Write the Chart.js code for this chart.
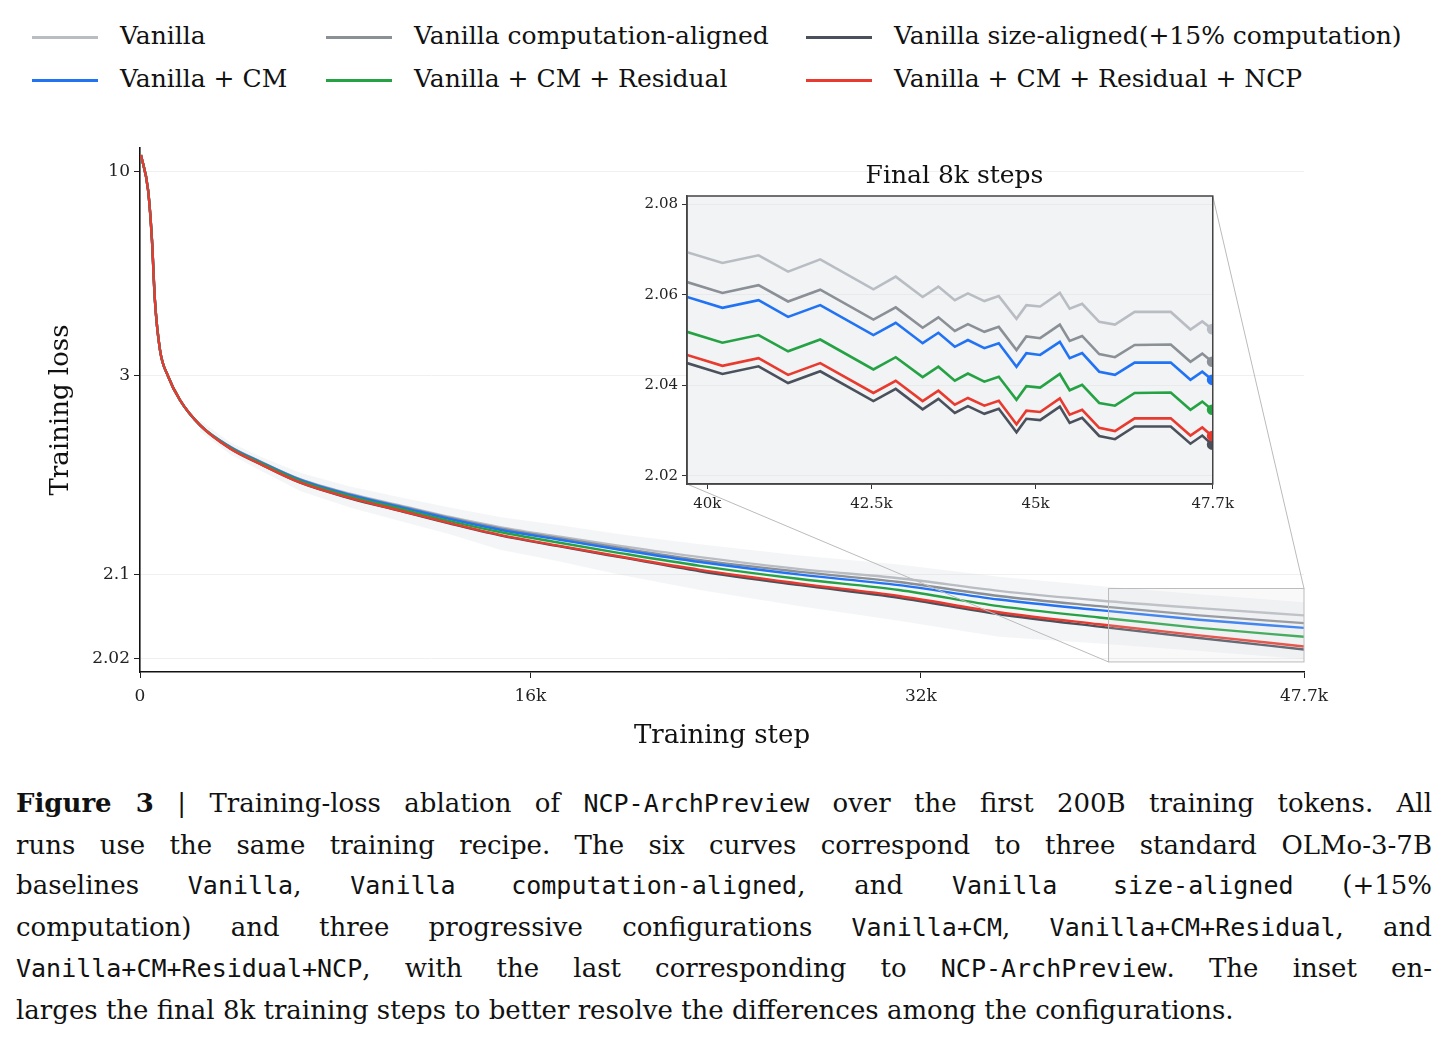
<!DOCTYPE html>
<html>
<head>
<meta charset="utf-8">
<script src="https://cdn.jsdelivr.net/npm/chart.js@4.4.0/dist/chart.umd.min.js"></script>
<style>
  body { margin: 0; background: #fff; width: 1448px; height: 1047px; position: relative; overflow: hidden; font-family: "DejaVu Serif", serif; color: #111; }
  .leg { position: absolute; font-size: 25px; white-space: nowrap; }
  .leg i { position: absolute; top: 16px; width: 66px; height: 3px; }
  .leg span { position: absolute; }
  #mainWrap { position: absolute; left: 0; top: 130px; width: 1350px; height: 640px; }
  #insetWrap { position: absolute; left: 630px; top: 160px; width: 610px; height: 360px; }
  #insetTitle { position: absolute; left: 687px; width: 535px; top: 160px; text-align: center; font-size: 25px; }
  #caption { position: absolute; left: 16px; top: 783px; width: 1416px; font-size: 26px; line-height: 40.6px; }
  #caption div { text-align: justify; text-align-last: justify; white-space: nowrap; }
  #caption div.last { text-align-last: left; }
  #caption code { font-family: "DejaVu Sans Mono", monospace; font-size: 25px; }
</style>
</head>
<body>
<div id="legend"></div>
<div id="mainWrap"><canvas id="mainChart"></canvas></div>
<div id="insetWrap"><canvas id="insetChart"></canvas></div>
<div id="insetTitle">Final 8k steps</div>
<div id="caption">
<div><b>Figure 3</b> | Training-loss ablation of <code>NCP-ArchPreview</code> over the first 200B training tokens. All</div>
<div>runs use the same training recipe. The six curves correspond to three standard OLMo-3-7B</div>
<div>baselines <code>Vanilla</code>, <code>Vanilla computation-aligned</code>, and <code>Vanilla size-aligned</code> (+15%</div>
<div>computation) and three progressive configurations <code>Vanilla+CM</code>, <code>Vanilla+CM+Residual</code>, and</div>
<div><code>Vanilla+CM+Residual+NCP</code>, with the last corresponding to <code>NCP-ArchPreview</code>. The inset en-</div>
<div class="last">larges the final 8k training steps to better resolve the differences among the configurations.</div>
</div>
<script>
// series names and colours
const names = ['Vanilla', 'Vanilla computation-aligned', 'Vanilla size-aligned(+15% computation)',
               'Vanilla + CM', 'Vanilla + CM + Residual', 'Vanilla + CM + Residual + NCP'];
const colors = ['#b9bdc3', '#8b8f96', '#4b515c', '#2173f3', '#25a244', '#e83a2e'];

// main chart: training steps and losses
const mainSteps = [40, 330, 490, 610, 820, 1150, 1640, 2460, 3690, 4920, 6560, 8600, 10650, 12700,
                   14750, 17200, 19670, 22950, 27050, 31100, 35200, 39300, 43400, 47700];
const head = [11.5, 8.67, 6.02, 4.18, 3.30, 2.99, 2.77, 2.59];
const mainVanilla = head.concat([2.468, 2.398, 2.326, 2.276, 2.241, 2.210, 2.186, 2.165, 2.147, 2.127, 2.108, 2.095, 2.079, 2.068, 2.060, 2.053]);
const mainComp    = head.concat([2.467, 2.397, 2.325, 2.274, 2.239, 2.208, 2.183, 2.162, 2.143, 2.122, 2.104, 2.090, 2.073, 2.062, 2.053, 2.046]);
const mainSize    = head.concat([2.458, 2.386, 2.313, 2.262, 2.226, 2.194, 2.168, 2.146, 2.127, 2.105, 2.086, 2.071, 2.054, 2.043, 2.034, 2.026]);
const mainCM      = head.concat([2.466, 2.395, 2.323, 2.272, 2.237, 2.205, 2.180, 2.159, 2.140, 2.119, 2.100, 2.086, 2.069, 2.058, 2.049, 2.042]);
const mainRes     = head.concat([2.462, 2.391, 2.319, 2.268, 2.232, 2.200, 2.175, 2.153, 2.134, 2.113, 2.094, 2.080, 2.062, 2.051, 2.042, 2.035]);
const mainNCP     = head.concat([2.458, 2.387, 2.314, 2.263, 2.227, 2.195, 2.169, 2.147, 2.128, 2.107, 2.088, 2.073, 2.056, 2.045, 2.036, 2.028]);
// raw-loss noise envelope (from 2.46k on)
const bandHigh = [2.62, 2.49, 2.42, 2.35, 2.30, 2.265, 2.235, 2.21, 2.19, 2.17, 2.15, 2.13, 2.115, 2.097, 2.085, 2.075, 2.066];
const bandLow  = [2.55, 2.43, 2.36, 2.285, 2.235, 2.20, 2.17, 2.14, 2.12, 2.10, 2.08, 2.062, 2.048, 2.035, 2.030, 2.025, 2.020];
const mainTicksY = [10, 3, 2.1, 2.02];
const mainTicksX = [0, 16000, 32000, 47700];
const mainTickXLabels = ['0', '16k', '32k', '47.7k'];

// inset: final 8k steps
const insetSteps = [39690, 40230, 40780, 41230, 41720, 42530, 42870, 43280, 43520, 43770, 43970, 44220, 44440,
                    44710, 44860, 45070, 45370, 45520, 45710, 45970, 46210, 46510, 47060, 47360, 47540, 47690];
const insVanilla = [2.0694, 2.0670, 2.0687, 2.0651, 2.0678, 2.0612, 2.0640, 2.0595, 2.0618, 2.0588, 2.0603, 2.0586, 2.0597, 2.0547, 2.0577, 2.0574, 2.0604, 2.0569, 2.0580, 2.0540, 2.0534, 2.0562, 2.0562, 2.0523, 2.0541, 2.0524];
const insComp    = [2.0628, 2.0604, 2.0621, 2.0585, 2.0611, 2.0545, 2.0572, 2.0527, 2.0550, 2.0520, 2.0535, 2.0518, 2.0529, 2.0478, 2.0508, 2.0504, 2.0534, 2.0498, 2.0509, 2.0469, 2.0462, 2.0489, 2.0490, 2.0452, 2.0470, 2.0452];
const insSize    = [2.0449, 2.0425, 2.0442, 2.0405, 2.0431, 2.0365, 2.0392, 2.0347, 2.0370, 2.0339, 2.0354, 2.0337, 2.0348, 2.0296, 2.0326, 2.0323, 2.0353, 2.0317, 2.0328, 2.0288, 2.0281, 2.0309, 2.0309, 2.0271, 2.0289, 2.0269];
const insCM      = [2.0595, 2.0571, 2.0588, 2.0551, 2.0577, 2.0511, 2.0538, 2.0493, 2.0516, 2.0485, 2.0500, 2.0482, 2.0493, 2.0441, 2.0471, 2.0467, 2.0496, 2.0460, 2.0471, 2.0430, 2.0423, 2.0450, 2.0450, 2.0412, 2.0430, 2.0412];
const insRes     = [2.0518, 2.0494, 2.0511, 2.0475, 2.0501, 2.0435, 2.0462, 2.0418, 2.0441, 2.0410, 2.0426, 2.0408, 2.0419, 2.0368, 2.0398, 2.0395, 2.0425, 2.0389, 2.0401, 2.0361, 2.0355, 2.0383, 2.0384, 2.0346, 2.0364, 2.0346];
const insNCP     = [2.0467, 2.0443, 2.0460, 2.0423, 2.0449, 2.0383, 2.0410, 2.0365, 2.0388, 2.0357, 2.0372, 2.0355, 2.0366, 2.0314, 2.0344, 2.0341, 2.0371, 2.0335, 2.0346, 2.0306, 2.0299, 2.0327, 2.0327, 2.0289, 2.0307, 2.0288];
const insetTicksX = [40000, 42500, 45000, 47700];
const insetTickXLabels = ['40k', '42.5k', '45k', '47.7k'];
const insetTicksY = [2.02, 2.04, 2.06, 2.08];

// legend
const legPos = [[32, 38], [326, 38], [806, 38], [32, 81], [326, 81], [806, 81]];
const legend = document.getElementById('legend');
names.forEach((n, i) => {
  const d = document.createElement('div');
  d.className = 'leg';
  d.style.left = legPos[i][0] + 'px';
  d.style.top = (legPos[i][1] - 17) + 'px';
  d.innerHTML = '<i style="background:' + colors[i] + ';top:15px"></i><span style="left:88px">' + n + '</span>';
  legend.appendChild(d);
});

// y axis of the main plot: log(loss - 1.96)
const OFF = 1.96;
const f = v => Math.log10(v - OFF);
const pts = (xs, ys) => ys.map((y, i) => ({ x: xs[i], y: f(y) }));
const bandSteps = mainSteps.slice(7);

const tickFont = { family: 'DejaVu Serif', size: 17 };

// Chart.js paints dataset 0 on top, so the series go in reverse order
const insetSeries = [insVanilla, insComp, insSize, insCM, insRes, insNCP];
const insetChart = new Chart(document.getElementById('insetChart'), {
  type: 'line',
  data: {
    datasets: insetSeries.map((s, i) => ({
      data: s.map((y, j) => ({ x: insetSteps[j], y: y })),
      borderColor: colors[i], backgroundColor: colors[i],
      borderWidth: 2.6, tension: 0, order: 6 - i,
      pointRadius: s.map((_, j) => j === s.length - 1 ? 4 : 0)
    }))
  },
  options: {
    responsive: true, maintainAspectRatio: false, animation: false,
    layout: { padding: { top: 36, right: 18, left: 0, bottom: 0 } },
    plugins: { legend: { display: false }, tooltip: { enabled: false } },
    scales: {
      x: {
        type: 'linear', min: 39690, max: 47700,
        afterBuildTicks: s => { s.ticks = insetTicksX.map(v => ({ value: v })); },
        afterFit: s => { s.height = 36; },
        ticks: { font: { family: 'DejaVu Serif', size: 15 }, color: '#222', padding: 6, maxRotation: 0,
                 callback: v => insetTickXLabels[insetTicksX.indexOf(v)] },
        grid: { display: true, color: 'rgba(0,0,0,0)', tickColor: '#333', tickLength: 5 },
        border: { color: '#444', width: 1.5 }
      },
      y: {
        min: 2.0182, max: 2.0818,
        afterBuildTicks: s => { s.ticks = insetTicksY.map(v => ({ value: v })); },
        afterFit: s => { s.width = 57; },
        ticks: { font: { family: 'DejaVu Serif', size: 15 }, color: '#222', padding: 4,
                 callback: v => v.toFixed(2) },
        grid: { color: '#e8eaec', tickColor: '#333', tickLength: 5 },
        border: { color: '#444', width: 1.5 }
      }
    }
  },
  plugins: [{
    id: 'insetBox',
    beforeDraw(c) {
      const a = c.chartArea, ctx = c.ctx;
      ctx.save();
      ctx.fillStyle = '#fff';
      ctx.fillRect(a.left, a.top, a.right - a.left, a.bottom - a.top);
      ctx.fillStyle = 'rgba(225,229,233,0.45)';
      ctx.fillRect(a.left, a.top, a.right - a.left, a.bottom - a.top);
      ctx.restore();
    },
    afterDraw(c) {
      const a = c.chartArea, ctx = c.ctx;
      ctx.save();
      ctx.strokeStyle = '#444'; ctx.lineWidth = 1.5;
      ctx.strokeRect(a.left, a.top, a.right - a.left, a.bottom - a.top);
      ctx.restore();
    }
  }]
});

const mainSeries = [mainVanilla, mainComp, mainSize, mainCM, mainRes, mainNCP];
const mainDatasets = mainSeries.map((s, i) => ({
  data: pts(mainSteps, s), borderColor: colors[i], borderWidth: 2.4, order: 6 - i,
  pointRadius: 0, cubicInterpolationMode: 'monotone', fill: false
})).concat([
  { data: pts(bandSteps, bandHigh), borderWidth: 0, pointRadius: 0, fill: '+1', order: 10,
    backgroundColor: 'rgba(205,210,216,0.22)', borderColor: 'rgba(0,0,0,0)' },
  { data: pts(bandSteps, bandLow), borderWidth: 0, pointRadius: 0, fill: false, order: 11, borderColor: 'rgba(0,0,0,0)' }
]);

new Chart(document.getElementById('mainChart'), {
  type: 'line',
  data: { datasets: mainDatasets },
  options: {
    responsive: true, maintainAspectRatio: false, animation: false,
    layout: { padding: { top: 18, right: 46, left: 42, bottom: 14 } },
    plugins: { legend: { display: false }, tooltip: { enabled: false } },
    scales: {
      x: {
        type: 'linear', min: 0, max: 47700,
        afterBuildTicks: s => { s.ticks = mainTicksX.map(v => ({ value: v })); },
        afterFit: s => { s.height = 84; },
        ticks: { font: tickFont, color: '#222', padding: 8, maxRotation: 0,
                 callback: v => mainTickXLabels[mainTicksX.indexOf(v)] },
        grid: { display: true, color: 'rgba(0,0,0,0)', tickColor: '#222', tickLength: 6 },
        border: { color: '#111', width: 1.6 },
        title: { display: true, text: 'Training step', font: { family: 'DejaVu Serif', size: 26 }, color: '#111', padding: { top: 4 } }
      },
      y: {
        min: -1.279, max: 1.010,
        afterBuildTicks: s => { s.ticks = mainTicksY.map(v => ({ value: f(v) })); },
        afterFit: s => { s.width = 98; },
        ticks: { font: tickFont, color: '#222', padding: 4,
                 callback: (v, i) => String(mainTicksY[i]) },
        grid: { color: '#f0f0f0', tickColor: '#222', tickLength: 6 },
        border: { color: '#111', width: 1.6 },
        title: { display: true, text: 'Training loss', font: { family: 'DejaVu Serif', size: 26 }, color: '#111', padding: { bottom: 4 } }
      }
    }
  },
  plugins: [{
    id: 'zoomBox',
    afterDatasetsDraw(c) {
      const xs = c.scales.x, ys = c.scales.y, ctx = c.ctx;
      const x0 = xs.getPixelForValue(insetChart.scales.x.min), x1 = xs.getPixelForValue(insetChart.scales.x.max);
      const y0 = ys.getPixelForValue(f(insetChart.scales.y.max)), y1 = ys.getPixelForValue(f(insetChart.scales.y.min));
      const ia = insetChart.chartArea;
      const ox = 630, oy = 160 - 130;
      ctx.save();
      ctx.fillStyle = 'rgba(220,224,228,0.18)';
      ctx.fillRect(x0, y0, x1 - x0, y1 - y0);
      ctx.strokeStyle = '#bbb'; ctx.lineWidth = 1;
      ctx.strokeRect(x0, y0, x1 - x0, y1 - y0);
      ctx.beginPath();
      ctx.moveTo(ia.left + ox, ia.bottom + oy); ctx.lineTo(x0, y1);
      ctx.moveTo(ia.right + ox, ia.top + oy); ctx.lineTo(x1, y0);
      ctx.stroke();
      ctx.restore();
    }
  }]
});
</script>
</body>
</html>
